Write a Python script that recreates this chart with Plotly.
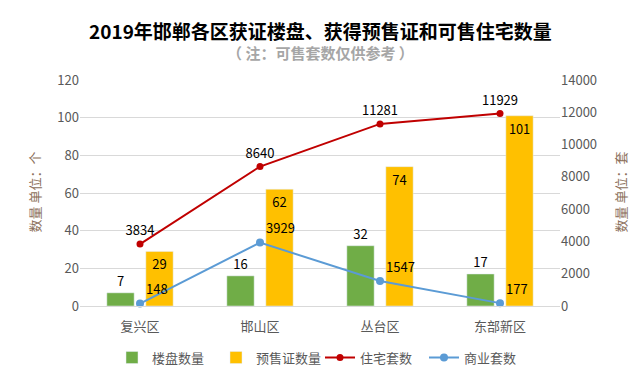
import plotly.graph_objects as go

districts = ["复兴区", "邯山区", "丛台区", "东部新区"]
projects = [7, 16, 32, 17]
permits = [29, 62, 74, 101]
residential = [3834, 8640, 11281, 11929]
commercial = [148, 3929, 1547, 177]

FONT = "Noto Sans CJK SC, Microsoft YaHei, sans-serif"

fig = go.Figure()
fig.add_trace(go.Bar(
    x=districts, y=projects, name="楼盘数量", marker_color="#70AD47",
    text=projects, textposition="outside", cliponaxis=False,
    textfont=dict(color="#000000", size=13), yaxis="y",
))
fig.add_trace(go.Bar(
    x=districts, y=permits, name="预售证数量", marker_color="#FFC000",
    text=permits, textposition="inside", insidetextanchor="end", textangle=0,
    textfont=dict(color="#000000", size=13), yaxis="y",
))
fig.add_trace(go.Scatter(
    x=districts, y=residential, name="住宅套数", mode="lines+markers+text",
    line=dict(color="#C00000", width=2), marker=dict(size=7, color="#C00000"),
    text=residential, textposition="top center",
    textfont=dict(color="#000000", size=13), yaxis="y2", cliponaxis=False,
))
fig.add_trace(go.Scatter(
    x=districts, y=commercial, name="商业套数", mode="lines+markers+text",
    line=dict(color="#5B9BD5", width=2), marker=dict(size=8, color="#5B9BD5"),
    text=commercial, textposition="top right",
    textfont=dict(color="#000000", size=13), yaxis="y2", cliponaxis=False,
))

L, R, T, B = 72, 87, 72, 70
PW, PH = 639 - L - R, 377 - T - B


def px_x(x):
    return (x - L) / PW


def px_y(y):
    return 1 + (T - y) / PH


fig.update_layout(
    width=639, height=377,
    margin=dict(l=L, r=R, t=T, b=B),
    paper_bgcolor="white", plot_bgcolor="white",
    font=dict(family=FONT, color="#595959", size=13),
    barmode="group", bargap=0.35, bargroupgap=0.3,
    showlegend=True,
    legend=dict(orientation="h", x=0.5, xanchor="center", y=px_y(345), yanchor="top",
                font=dict(size=13, color="#595959"), traceorder="normal",
                itemwidth=30, entrywidth=59, entrywidthmode="pixels"),
    xaxis=dict(showgrid=False, showline=True, linecolor="#D9D9D9",
               tickfont=dict(size=13, color="#595959"), ticks="", ticklabelstandoff=8),
    yaxis=dict(range=[0, 120], dtick=20, showgrid=True, gridcolor="#D9D9D9",
               zeroline=False, tickfont=dict(size=13, color="#595959")),
    yaxis2=dict(range=[0, 14000], dtick=2000, overlaying="y", side="right",
                showgrid=False, zeroline=False, tickformat="d",
                tickfont=dict(size=13, color="#595959")),
    annotations=[
        dict(text="<b>2019年邯郸各区获证楼盘、获得预售证和可售住宅数量</b>",
             x=0.5, y=px_y(21), xref="paper", yref="paper", showarrow=False,
             xanchor="center", yanchor="middle",
             font=dict(size=19, color="#000000", family=FONT)),
        dict(text="<b>（ 注：可售套数仅供参考 ）</b>",
             x=0.5, y=px_y(43), xref="paper", yref="paper", showarrow=False,
             xanchor="center", yanchor="middle",
             font=dict(size=15, color="#A6A6A6", family=FONT)),
        dict(text="数量 单位：个", textangle=-90,
             x=px_x(27), y=px_y(189), xref="paper", yref="paper", showarrow=False,
             xanchor="center", yanchor="middle",
             font=dict(size=13, color="#8B6F5A", family=FONT)),
        dict(text="数量 单位：套", textangle=-90,
             x=px_x(613), y=px_y(189), xref="paper", yref="paper", showarrow=False,
             xanchor="center", yanchor="middle",
             font=dict(size=13, color="#8B6F5A", family=FONT)),
    ],
)
fig.write_html("out.html")
